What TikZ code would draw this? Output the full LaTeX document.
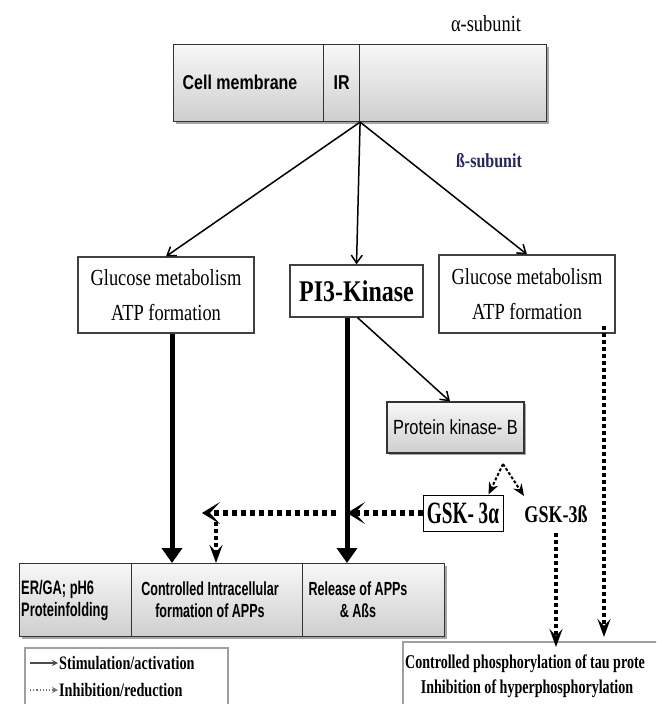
\documentclass[tikz,border=0pt]{standalone}
\usepackage{fontspec}
\usetikzlibrary{arrows.meta,shadows}
\setmainfont{Liberation Serif}
\newfontfamily\tnr[FakeStretch=0.8]{Liberation Serif}
\newfontfamily\tnrb[FakeStretch=0.75]{Liberation Serif}
\newfontfamily\tnrg[FakeStretch=0.62]{Liberation Serif}
\newfontfamily\tnrt[FakeStretch=0.72]{Liberation Serif}
\newfontfamily\arl[FakeStretch=0.8]{Liberation Sans}
\newfontfamily\arn[FakeStretch=0.66]{Liberation Sans}
\definecolor{subnavy}{RGB}{38,38,96}
\tikzset{
  graybox/.style={draw=black!80, line width=1.1pt, top color=gray!6, bottom color=gray!38, inner sep=0pt,
     drop shadow={shadow xshift=2pt, shadow yshift=-2pt, fill=black, opacity=0.35}},
  whitebox/.style={draw=black!75, line width=1.2pt, fill=white, inner sep=0pt},
  framebox/.style={draw=gray!75, line width=1.6pt, fill=white, inner sep=0pt},
  thinarr/.style={line width=1.5pt, -{Straight Barb[length=8pt,width=11pt]}},
  thickarr/.style={line width=5pt, -{Triangle[length=15pt,width=20pt]}},
  dotarr/.style={line width=6pt, dash pattern=on 5pt off 4pt, -{Stealth[length=18pt,width=22pt,inset=10pt]}},
  vdotarr/.style={line width=3.5pt, dash pattern=on 4pt off 3pt, -{Stealth[length=18pt,width=13pt,inset=7pt]}},
  sdotarr/.style={line width=2pt, dash pattern=on 3pt off 2pt, -{Stealth[length=12pt,width=10pt,inset=4pt]}},
}
\begin{document}
\begin{tikzpicture}[x=1pt,y=-1pt]
\path[use as bounding box, clip] (0,0) rectangle (656,704);
\fill[white] (0,0) rectangle (656,704);

% membrane bar
\node[graybox, anchor=north west, minimum width=150pt, minimum height=77pt] (cm) at (173,44) {};
\node[graybox, anchor=north west, minimum width=36pt, minimum height=77pt,
      font=\arl\bfseries\fontsize{20}{20}\selectfont] (ir) at (323,44) {IR};
\node[graybox, anchor=north west, minimum width=187pt, minimum height=77pt] (au) at (359,44) {};
\node[font=\arl\bfseries\fontsize{20}{20}\selectfont] (cmt) at (240,82) {Cell membrane};
\node[font=\tnr\fontsize{23}{23}\selectfont] (alpha) at (486,24) {α-subunit};
\node[font=\tnr\bfseries\fontsize{20}{20}\selectfont, text=subnavy] (beta) at (489,161) {ß-subunit};

% level two
\node[whitebox, minimum width=176pt, minimum height=76pt, align=center,
      font=\tnr\fontsize{23}{35}\selectfont] (gl) at (166,295) {Glucose metabolism\\ATP formation};
\node[whitebox, minimum width=133pt, minimum height=52pt,
      font=\tnr\bfseries\fontsize{30}{30}\selectfont] (pi3) at (356.5,291) {PI3-Kinase};
\node[whitebox, minimum width=176pt, minimum height=78pt, align=center,
      font=\tnr\fontsize{23}{35}\selectfont] (gr) at (527,294) {Glucose metabolism\\ATP formation};

\node[graybox, minimum width=137pt, minimum height=51pt,
      font=\arl\fontsize{20.5}{20}\selectfont] (pkb) at (455.5,427.5) {Protein kinase- B};
\node[whitebox, draw=black, line width=1pt, minimum width=80pt, minimum height=36pt,
      font=\tnrg\bfseries\fontsize{31}{31}\selectfont] (gsa) at (463,513) {GSK- 3α};
\node[inner sep=0pt, font=\tnrb\bfseries\fontsize{24}{24}\selectfont] (gsb) at (556,514) {GSK-3ß};

% bottom boxes
\node[graybox, anchor=north west, minimum width=112pt, minimum height=73pt] (b1) at (19,563) {};
\node[graybox, anchor=north west, minimum width=171pt, minimum height=73pt] (b2) at (131,563) {};
\node[graybox, anchor=north west, minimum width=142pt, minimum height=73pt] (b3) at (302,563) {};
\node[anchor=west, inner sep=0pt, align=left, font=\arn\bfseries\fontsize{19.5}{22}\selectfont] (b1t) at (21,600) {ER/GA; pH6\\Proteinfolding};
\node[inner sep=0pt, align=center, font=\arn\bfseries\fontsize{19}{22}\selectfont] (b2t) at (210,600) {Controlled Intracellular\\formation of APPs};
\node[inner sep=0pt, align=center, font=\arn\bfseries\fontsize{19}{22}\selectfont] (b3t) at (358,600) {Release of APPs\\\& Aßs};

% legend
\node[framebox, anchor=north west, minimum width=203pt, minimum height=80pt] (leg) at (24,647) {};
\coordinate (s1) at (30,663); \coordinate (s2) at (58,663);
\coordinate (d1) at (30,690); \coordinate (d2) at (58,690);
\draw[black!70, line width=1.5pt, -{Stealth[length=6pt,width=6pt]}] (s1) -- (s2);
\draw[black!55, line width=1.2pt, dotted, -{Stealth[length=6pt,width=6pt]}] (d1) -- (d2);
\node[anchor=west, inner sep=0pt, font=\tnrb\bfseries\fontsize{19}{19}\selectfont] (l1) at (59,663) {Stimulation/activation};
\node[anchor=west, inner sep=0pt, font=\tnrb\bfseries\fontsize{19}{19}\selectfont] (l2) at (59,690) {Inhibition/reduction};

% tau box
\node[framebox, anchor=north west, minimum width=300pt, minimum height=90pt] (tau) at (402,641) {};
\node[anchor=base west, inner sep=0pt, font=\tnrt\bfseries\fontsize{19.5}{19}\selectfont] (tau1) at (405,668) {Controlled phosphorylation of tau prote};
\node[anchor=base, inner sep=0pt, font=\tnrt\bfseries\fontsize{19.5}{19}\selectfont] (tau2) at (527,693) {Inhibition of hyperphosphorylation};

% connectors
\coordinate (src) at (ir.south east);
\draw[thinarr] (src) -- (gl.north);
\draw[thinarr] (src) -- (pi3.north);
\draw[thinarr] (src) -- (gr.north);
\draw[thickarr] ([xshift=6pt]gl.south) -- ([xshift=6pt]gl.south |- b2.north);
\coordinate (pt) at ([xshift=-9.5pt]pi3.south);
\draw[thickarr] (pt) -- (pt |- b3.north);
\draw[thinarr] ([xshift=1pt]pi3.south) -- ([xshift=-5.5pt]pkb.north);

\coordinate (sp) at (503,464);
\coordinate (gbt) at (524,496);
\draw[sdotarr] (sp) -- ([xshift=-15pt]gsa.north east);
\draw[sdotarr] (sp) -- (gbt);

\draw[dotarr] (gsa.west) -- (gsa.west -| pt);
\coordinate (lt) at (202,513);
\draw[dotarr] ([xshift=-11pt]gsa.west -| pt) -- (lt);
\coordinate (sv) at (216,522);
\draw[vdotarr] (sv) -- (sv |- b2.north);

\draw[vdotarr, shorten >=4pt] ([yshift=-10pt]gsb.south) -- ([yshift=-10pt]gsb.south |- tau.north);
\draw[vdotarr, shorten >=4pt] ([xshift=77pt,yshift=8pt]gr.south) -- ([xshift=77pt]gr.south |- tau.north);
\end{tikzpicture}
\end{document}
